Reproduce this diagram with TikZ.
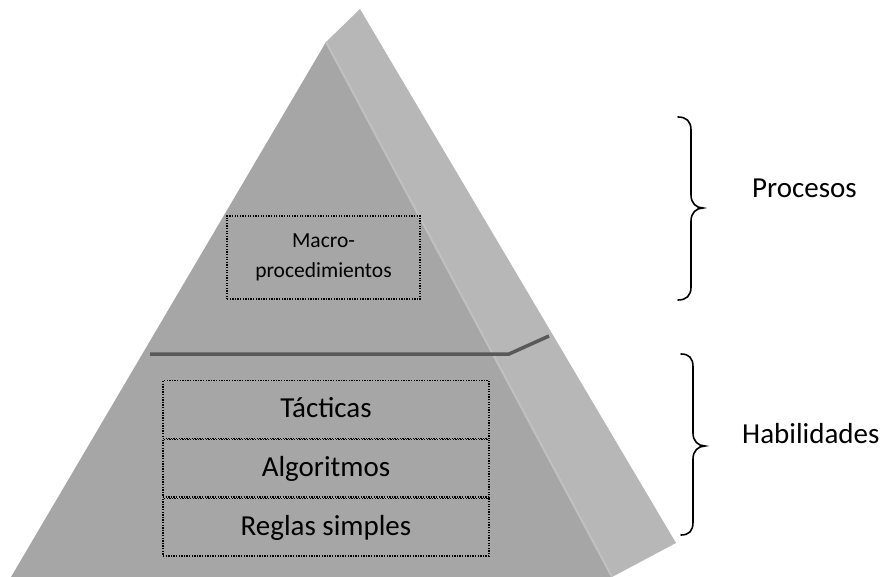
\documentclass[tikz,border=0pt]{standalone}
\usepackage{fontspec}
\setmainfont{Carlito}
\definecolor{frontgray}{HTML}{A6A6A6}
\definecolor{sidegray}{HTML}{B7B7B7}
\definecolor{edgegray}{HTML}{C0C0C0}
\definecolor{linegray}{HTML}{595959}
\begin{document}
\begin{tikzpicture}[x=1pt,y=-1pt,
  bigfont/.style={font=\fontsize{29}{35}\selectfont},
  smallfont/.style={font=\fontsize{21.5}{30}\selectfont},
  layerbox/.style={draw=black, line width=1.3pt, dash pattern=on 1.3pt off 1.3pt,
    minimum width=326pt, inner sep=0pt, text height=37pt, text depth=20.5pt, bigfont},
  macrobox/.style={draw=black, line width=1.3pt, dash pattern=on 1.3pt off 1.3pt,
    minimum width=193pt, minimum height=83pt, inner sep=0pt},
  bracestyle/.style={draw=black, line width=1.6pt, line cap=round},
  divider/.style={draw=linegray, line width=3.5pt}
]
\useasboundingbox (0,0) rectangle (890,577);
% side face
\fill[sidegray] (326,42) -- (360,9) -- (676,543) -- (612,577) -- cycle;
% front face
\fill[frontgray] (326,42) -- (11,577) -- (612,577) -- cycle;
\draw[edgegray, line width=2pt] (326,42) -- (612,577);
% divider
\draw[divider] (150,354) -- (509,354) -- (549,336);
% boxes
\node[macrobox] (macro) at (323.5,257.5) {};
\node[smallfont, anchor=base, inner sep=0pt] (macroA) at (323.5,247) {Macro-};
\node[smallfont, anchor=base, inner sep=0pt] (macroB) at (323.5,277) {procedimientos};
\node[layerbox] (tacticas) at (326,409.5) {Tácticas};
\node[layerbox, anchor=north] (algoritmos) at (tacticas.south) {Algoritmos};
\node[layerbox, anchor=north] (reglas) at (algoritmos.south) {Reglas simples};
% braces
\coordinate (pa) at (678,117);
\coordinate (pb) at (678,300);
\draw[bracestyle] (pa) .. controls (686,117) and (691,121) .. (691,130) -- (691,195)
  .. controls (691,203) and (696,208) .. (703,208)
  .. controls (696,208) and (691,213) .. (691,221) -- (691,287)
  .. controls (691,296) and (686,300) .. (pb);
\coordinate (ha) at (681,354);
\coordinate (hb) at (681,535);
\draw[bracestyle] (ha) .. controls (689,354) and (693,358) .. (693,367) -- (693,433)
  .. controls (693,441) and (698,446) .. (705,446)
  .. controls (698,446) and (693,451) .. (693,459) -- (693,522)
  .. controls (693,531) and (689,535) .. (hb);
\node[bigfont, anchor=base west, inner sep=0pt] (procesos) at (752,197) {Procesos};
\node[bigfont, anchor=base west, inner sep=0pt] (habilidades) at (742,443) {Habilidades};
\end{tikzpicture}
\end{document}
